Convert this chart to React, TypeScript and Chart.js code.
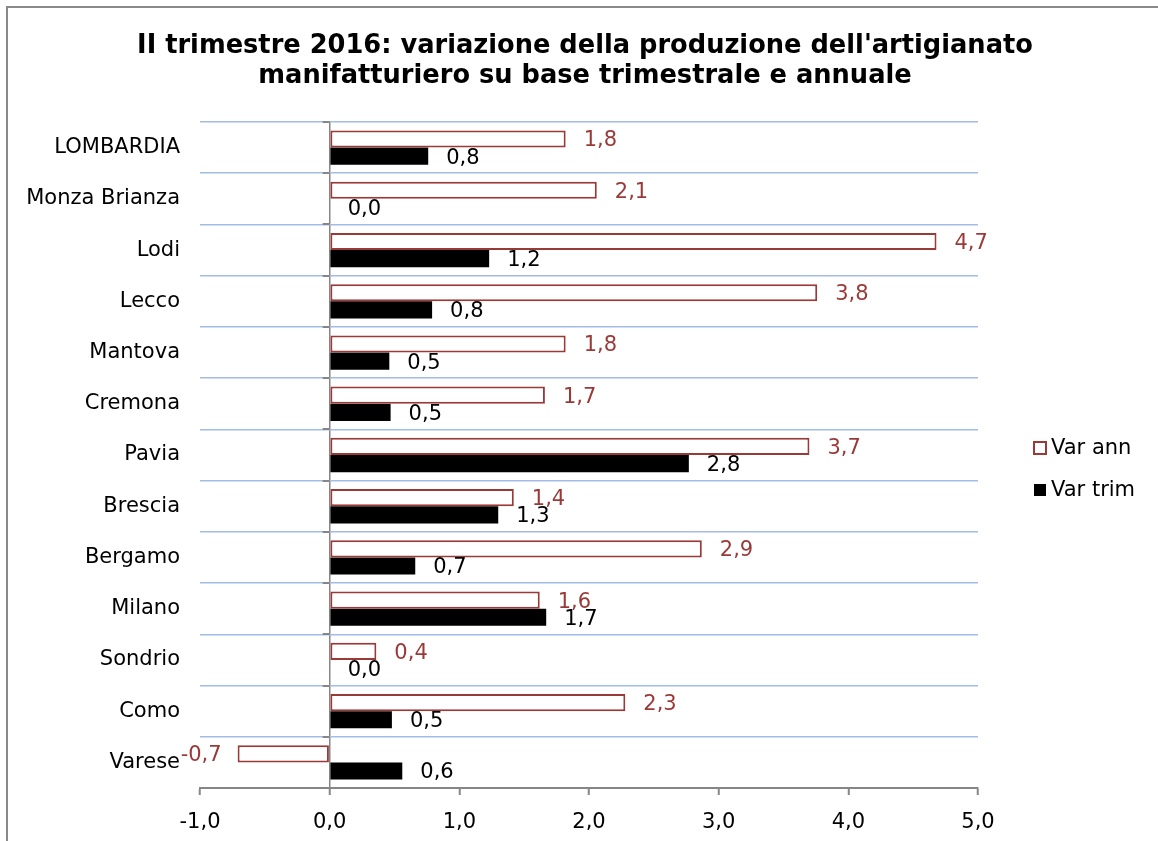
import React, { useEffect, useRef } from "react";
import { Chart, registerables } from "chart.js";

Chart.register(...registerables);

const categories = [
  "LOMBARDIA", "Monza Brianza", "Lodi", "Lecco", "Mantova", "Cremona", "Pavia",
  "Brescia", "Bergamo", "Milano", "Sondrio", "Como", "Varese",
];
const varAnn = [1.82, 2.06, 4.68, 3.76, 1.82, 1.66, 3.7, 1.42, 2.87, 1.62, 0.36, 2.28, -0.71];
const varTrim = [0.76, 0.0, 1.23, 0.79, 0.46, 0.47, 2.77, 1.3, 0.66, 1.67, 0.0, 0.48, 0.56];
const seriesNames = ["Var ann", "Var trim"];
const titleLines = [
  "II trimestre 2016: variazione della produzione dell'artigianato",
  "manifatturiero su base trimestrale e annuale",
];

const FONT = "'DejaVu Sans', Verdana, sans-serif";
const RED = "#9a3a38";
const GRID_BLUE = "#a3bce6";
const AXIS_GRAY = "#868686";

const fmt = (v: number) => v.toFixed(1).replace(".", ",");

const decorPlugin = {
  id: "decor",
  beforeDraw(chart: any) {
    const ctx = chart.ctx;
    ctx.save();
    ctx.fillStyle = "#ffffff";
    ctx.fillRect(0, 0, chart.width, chart.height);
    ctx.strokeStyle = "#8a8a8a";
    ctx.lineWidth = 2;
    ctx.strokeRect(7, 7, chart.width + 20, chart.height + 20);
    ctx.restore();
  },
  afterDatasetsDraw(chart: any) {
    const ctx = chart.ctx;
    const xs = chart.scales.x;
    const area = chart.chartArea;
    const x0 = xs.getPixelForValue(0);
    ctx.save();
    // small tick marks on the zero axis at category boundaries
    ctx.strokeStyle = AXIS_GRAY;
    ctx.lineWidth = 2;
    const n = categories.length;
    for (let i = 0; i < n; i++) {
      const y = Math.round(area.top + (i * (area.bottom - area.top)) / n);
      ctx.beginPath();
      ctx.moveTo(x0 - 7, y);
      ctx.lineTo(x0, y);
      ctx.stroke();
    }
    // data labels
    ctx.font = `21px ${FONT}`;
    ctx.textBaseline = "middle";
    chart.data.datasets.forEach((ds: any, di: number) => {
      const meta = chart.getDatasetMeta(di);
      meta.data.forEach((bar: any, i: number) => {
        const v = ds.data[i];
        ctx.fillStyle = di === 0 ? RED : "#000000";
        if (v >= 0) {
          ctx.textAlign = "left";
          ctx.fillText(fmt(v), bar.x + 18, bar.y + 2);
        } else {
          ctx.textAlign = "right";
          ctx.fillText(fmt(v), bar.x - 16, bar.y + 2);
        }
      });
    });
    // title
    ctx.fillStyle = "#000000";
    ctx.textAlign = "center";
    ctx.font = `bold 25.7px ${FONT}`;
    ctx.fillText(titleLines[0], 585, 46);
    ctx.fillText(titleLines[1], 585, 76);
    // legend
    ctx.textAlign = "left";
    ctx.font = `21px ${FONT}`;
    const ly = [448, 490];
    ctx.fillStyle = "#ffffff";
    ctx.fillRect(1034, ly[0] - 6, 12, 12);
    ctx.strokeStyle = RED;
    ctx.lineWidth = 2;
    ctx.strokeRect(1034, ly[0] - 6, 12, 12);
    ctx.fillStyle = "#000000";
    ctx.fillRect(1034, ly[1] - 6, 12, 12);
    ctx.fillStyle = "#000000";
    ctx.fillText(seriesNames[0], 1051, ly[0] + 1);
    ctx.fillText(seriesNames[1], 1051, ly[1] + 1);
    ctx.restore();
  },
};

export default function App() {
  const ref = useRef<HTMLCanvasElement | null>(null);
  useEffect(() => {
    if (!ref.current) return;
    const chart = new Chart(ref.current, {
      type: "bar",
      data: {
        labels: categories,
        datasets: [
          {
            label: seriesNames[0],
            data: varAnn,
            backgroundColor: "#ffffff",
            borderColor: RED,
            borderWidth: 2,
            borderSkipped: false,
            categoryPercentage: 0.67,
            barPercentage: 1.0,
          },
          {
            label: seriesNames[1],
            data: varTrim,
            backgroundColor: "#000000",
            borderColor: "#000000",
            borderWidth: 0,
            categoryPercentage: 0.67,
            barPercentage: 1.0,
          },
        ],
      },
      options: {
        indexAxis: "y",
        responsive: false,
        animation: false,
        devicePixelRatio: 1,
        layout: { padding: { left: 0, top: 122, right: 180, bottom: 0 } },
        plugins: {
          legend: { display: false },
          title: { display: false },
          tooltip: { enabled: false },
        },
        scales: {
          x: {
            type: "linear",
            min: -1,
            max: 5,
            ticks: {
              stepSize: 1,
              color: "#000000",
              font: { family: FONT, size: 21 },
              padding: 15,
              callback: (v: any) => fmt(Number(v)),
            },
            grid: {
              color: (c: any) => (c.tick && c.tick.value === 0 ? AXIS_GRAY : "rgba(0,0,0,0)"),
              lineWidth: 1.5,
              tickColor: AXIS_GRAY,
              tickLength: 7,
              tickWidth: 2,
            },
            border: { display: true, color: AXIS_GRAY, width: 2 },
            afterFit: (s: any) => {
              s.height = 53;
            },
          },
          y: {
            type: "category",
            ticks: {
              color: "#000000",
              font: { family: FONT, size: 21 },
              padding: 20,
            },
            grid: {
              offset: true,
              color: GRID_BLUE,
              lineWidth: 1.5,
              drawTicks: false,
            },
            border: { display: false },
            afterFit: (s: any) => {
              s.width = 200;
            },
          },
        },
      },
      plugins: [decorPlugin],
    } as any);
    return () => chart.destroy();
  }, []);
  return (
    <div style={{ position: "fixed", left: 0, top: 0, width: 1158, height: 841, background: "#fff" }}>
      <canvas ref={ref} width={1158} height={841} style={{ width: 1158, height: 841, display: "block" }} />
    </div>
  );
}
